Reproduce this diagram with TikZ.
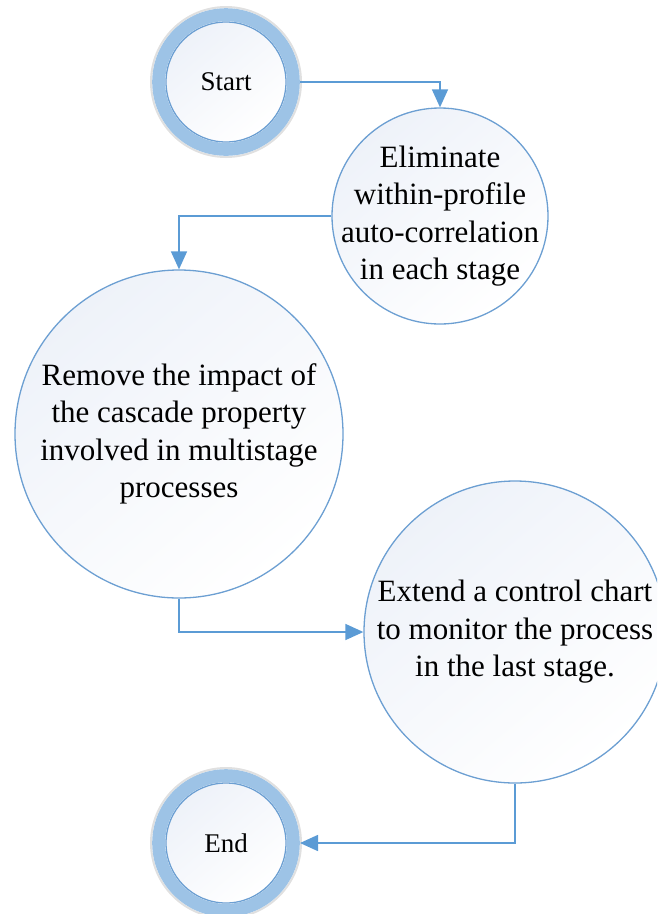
\documentclass[tikz,border=0pt]{standalone}
\usepackage{fontspec}
\setmainfont{Liberation Serif}
\usetikzlibrary{arrows.meta}
\definecolor{ringblue}{HTML}{9DC3E6}
\definecolor{edgeblue}{HTML}{6C9FD2}
\definecolor{flowblue}{HTML}{5B9BD5}
\definecolor{fillblue}{HTML}{EEF2F9}
\newcommand{\stagefont}{\fontsize{31}{37.5}\selectfont}
\newcommand{\termfont}{\fontsize{27}{32}\selectfont}

\begin{document}
\begin{tikzpicture}[x=1pt,y=-1pt,
	stage/.style={circle, draw=edgeblue, line width=1.3pt, align=center, inner sep=-20pt,
		top color=fillblue, middle color=white, bottom color=white, shading angle=40, font=\stagefont},
	terminal/.style={stage, minimum size=120pt, outer sep=14pt, font=\termfont},
	ring/.style={draw=ringblue, line width=13pt},
	flow/.style={draw=flowblue, line width=1.6pt, -{Triangle[length=18pt,width=16pt]}}]
	\clip (0,0) rectangle (657,914);

	\node[terminal] (start) at (226,82) {Start};
	\node[stage, minimum size=216pt] (elim) at (440,216)
		{Eliminate\\within-profile\\auto-correlation\\in each stage};
	\node[stage, minimum size=328pt] (remove) at (179,434)
		{Remove the impact of\\the cascade property\\involved in multistage\\processes};
	\node[stage, minimum size=302pt] (extend) at (515,632)
		{Extend a control chart\\to monitor the process\\in the last stage.};
	\node[terminal] (stop) at (226,843) {End};

	% rings round start and end
	\foreach \t in {start, stop} {
		\draw[black!12, line width=2pt] (\t.center) circle[radius=75];
		\draw[ring] (\t.center) circle[radius=67.3];
	}

	\draw[flow] (start.east) -| (elim.north);
	\draw[flow] (elim.west) -| (remove.north);
	\draw[flow] (remove.south) |- (extend.west);
	\draw[flow] (extend.south) |- (stop.east);
\end{tikzpicture}
\end{document}
